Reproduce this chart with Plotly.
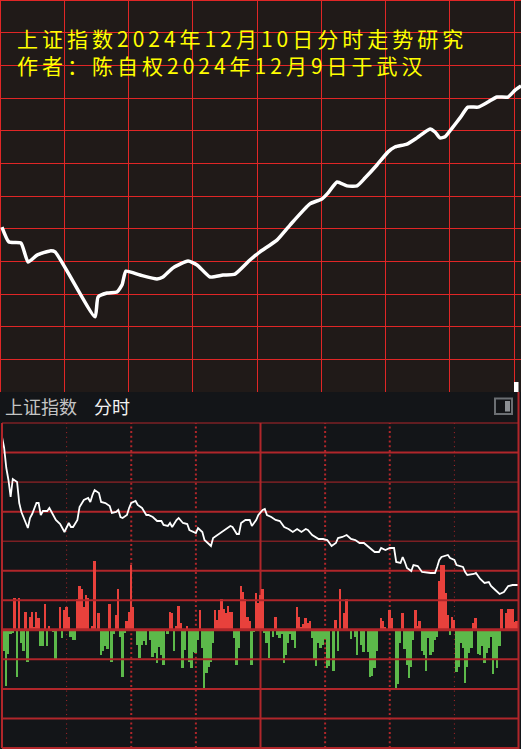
import plotly.graph_objects as go

W, H = 521, 749

# ---------------- data ----------------
# Top panel: forecast curve (session minute, index value)
top_min = [0.9, 4.2, 9.8, 13.1, 17.3, 23.3, 25.7, 44.4, 45.8, 50.0,
           54.6, 57.0, 58.8, 65.4, 73.3, 76.1, 80.8, 87.8, 92.0, 98.1,
           104.1, 109.7, 116.7, 121.4, 129.3, 135.4, 144.7, 150.3, 153.1, 157.4,
           162.0, 166.7, 170.4, 176.0, 181.2, 184.4, 190.0, 194.7, 200.8, 203.1,
           205.4, 207.8, 211.1, 214.8, 218.5, 223.2, 227.9, 232.1, 237.2, 240.5,
           243.3]
top_val = [3430.5, 3425.9, 3425.6, 3419.8, 3421.9, 3423.2, 3422.9, 3403.0, 3409.1, 3410.3,
           3410.6, 3412.8, 3417.0, 3415.8, 3414.6, 3415.2, 3418.0, 3420.1, 3418.9, 3415.2,
           3415.8, 3416.1, 3420.4, 3422.9, 3426.5, 3431.1, 3437.6, 3439.1, 3440.9, 3444.3,
           3443.1, 3443.1, 3445.5, 3449.5, 3453.5, 3455.0, 3455.9, 3457.8, 3460.5, 3459.6,
           3457.8, 3458.1, 3460.8, 3463.9, 3467.2, 3467.2, 3468.8, 3470.3, 3470.3, 3472.4,
           3473.7]

# Bottom panel: intraday price line (minute, index)
price_pts = [
    (0, 3447.2), (1, 3445.0), (2, 3441.0), (3, 3438.6), (4, 3435.2), (5, 3438.8),
    (7, 3438.2), (8, 3434.0), (9, 3432.2), (10, 3431.2), (12, 3429.0), (13, 3431.0),
    (14, 3431.8), (16, 3434.0), (17, 3434.0), (18, 3431.6), (19, 3432.4), (21, 3432.4),
    (22, 3433.0), (23, 3432.2), (25, 3430.6), (27, 3429.8), (29, 3428.2), (31, 3430.0),
    (32, 3429.2), (33, 3429.2), (35, 3430.6), (36, 3433.2), (38, 3434.6), (40, 3435.0),
    (41, 3434.2), (42, 3435.6), (43, 3436.6), (45, 3436.0), (46, 3434.2), (48, 3434.0),
    (50, 3433.4), (51, 3432.0), (53, 3432.2), (54, 3432.6), (55, 3431.2), (56, 3431.0),
    (58, 3431.6), (59, 3433.0), (60, 3434.0), (62, 3434.4), (63, 3433.6), (65, 3433.0),
    (67, 3431.6), (68, 3431.6), (70, 3431.2), (72, 3430.4), (74, 3430.4), (75, 3429.6),
    (77, 3429.4), (78, 3430.0), (79, 3429.2), (81, 3430.6), (82, 3431.0), (84, 3430.0),
    (86, 3429.8), (87, 3428.6), (90, 3428.0), (91, 3429.0), (93, 3428.2), (94, 3426.6),
    (96, 3425.8), (97, 3425.4), (98, 3427.0), (100, 3427.6), (103, 3428.4), (106, 3429.4),
    (107, 3429.2), (109, 3427.8), (110, 3427.8), (111, 3430.0), (113, 3430.6), (115, 3430.6),
    (116, 3429.4), (118, 3430.6), (119, 3431.6), (121, 3432.6), (122, 3432.8), (123, 3431.6),
    (125, 3431.2), (127, 3430.6), (129, 3430.4), (131, 3429.2), (133, 3428.8), (135, 3428.2),
    (137, 3428.8), (139, 3428.2), (141, 3428.8), (142, 3428.6), (144, 3427.6), (147, 3426.8),
    (149, 3426.8), (151, 3426.6), (153, 3425.4), (155, 3426.0), (156, 3427.0), (158, 3427.2),
    (160, 3427.6), (162, 3426.8), (164, 3426.6), (166, 3426.0), (168, 3426.0), (171, 3425.0),
    (173, 3424.2), (175, 3424.2), (176, 3425.0), (178, 3424.6), (180, 3425.0), (182, 3425.0),
    (183, 3422.2), (185, 3422.0), (186, 3423.2), (187, 3422.2), (188, 3421.0), (190, 3420.4),
    (191, 3421.6), (193, 3421.4), (195, 3420.2), (199, 3420.0), (201, 3420.0), (202, 3421.2),
    (203, 3422.6), (204, 3423.2), (207, 3423.6), (208, 3423.0), (210, 3422.6), (211, 3421.6),
    (214, 3421.2), (215, 3420.2), (216, 3419.6), (219, 3419.8), (220, 3420.0), (222, 3418.8),
    (224, 3418.0), (226, 3418.2), (227, 3417.4), (229, 3416.6), (231, 3415.8), (233, 3416.2),
    (235, 3417.4), (237, 3417.6), (240, 3417.6),
]
price_min = [p[0] for p in price_pts]
price_val = [p[1] for p in price_pts]

# Bottom panel: red (inflow) bars (minute, value)
red_bars = [
    (6, 32), (8, 32), (11, 18), (13, 13), (14, 18), (15, 3), (16, 18), (17, 12), (20, 26),
    (22, 4), (27, 23), (29, 20), (30, 23), (31, 13), (35, 31), (36, 44), (37, 41), (38, 23),
    (39, 35), (40, 32), (42, 4), (43, 69), (45, 17), (50, 26), (53, 15), (54, 41), (58, 9),
    (59, 18), (60, 65), (61, 23), (78, 18), (79, 17), (81, 4), (82, 24), (83, 7), (86, 4),
    (92, 20), (99, 20), (100, 10), (101, 20), (102, 31), (103, 21), (104, 17), (105, 24),
    (106, 18), (107, 18), (111, 44), (112, 38), (113, 31), (114, 13), (115, 9), (118, 37),
    (119, 27), (120, 35), (121, 41), (127, 13), (137, 23), (138, 13), (139, 3), (140, 6),
    (141, 12), (142, 7), (143, 9), (155, 10), (157, 41), (159, 17), (160, 31), (176, 12),
    (177, 9), (178, 3), (180, 20), (181, 12), (186, 17), (192, 20), (193, 4), (194, 9),
    (203, 49), (204, 65), (205, 65), (206, 37), (207, 15), (209, 13), (210, 10), (219, 7),
    (220, 12), (232, 21), (234, 17), (235, 21), (236, 21), (237, 21), (238, 8), (239, 9),
]
# green (outflow) bars (minute, value below zero)
green_bars = [
    (1, 21), (2, 56), (3, 24), (4, 4), (5, 3), (7, 47), (9, 13), (10, 21), (12, 32),
    (18, 16), (19, 16), (21, 16), (24, 2), (25, 30), (28, 8), (32, 7), (33, 10), (34, 10),
    (46, 25), (47, 21), (48, 16), (49, 19), (51, 32), (52, 4), (55, 7), (56, 47), (57, 3),
    (63, 15), (64, 28), (65, 15), (66, 11), (67, 15), (69, 10), (70, 27), (71, 23), (72, 33),
    (73, 17), (74, 25), (75, 35), (77, 4), (80, 21), (84, 38), (85, 20), (87, 32), (88, 38),
    (89, 22), (90, 23), (91, 10), (93, 18), (94, 60), (95, 43), (96, 37), (97, 32), (98, 13),
    (108, 8), (109, 35), (110, 18), (116, 35), (117, 2), (122, 3), (123, 13), (124, 28),
    (126, 7), (128, 5), (129, 8), (130, 4), (131, 33), (132, 25), (133, 13), (134, 4),
    (135, 10), (136, 18), (144, 8), (145, 30), (146, 36), (147, 13), (148, 18), (149, 15),
    (150, 9), (151, 38), (152, 36), (154, 41), (156, 21), (162, 9), (164, 7), (165, 25),
    (167, 15), (168, 22), (170, 22), (171, 47), (172, 46), (173, 38), (174, 21), (183, 58),
    (184, 54), (185, 13), (187, 19), (188, 35), (189, 48), (190, 37), (191, 10), (195, 21),
    (196, 25), (197, 41), (198, 8), (199, 25), (200, 22), (201, 10), (202, 7), (208, 5),
    (211, 42), (212, 37), (213, 13), (214, 18), (215, 53), (216, 37), (217, 23), (218, 18),
    (221, 24), (222, 25), (223, 16), (224, 33), (225, 23), (226, 18), (227, 7), (228, 44),
    (229, 29), (230, 38), (231, 16), (240, 7),
]
red_min = [b[0] for b in red_bars]
red_val = [b[1] for b in red_bars]
green_min = [b[0] for b in green_bars]
green_val = [-b[1] for b in green_bars]

title_1 = "上证指数2024年12月10日分时走势研究"
title_2 = "作者：陈自权2024年12月9日于武汉"
header_1 = "上证指数"
header_2 = "分时"

# ---------------- styles ----------------
TOP_BG = "#201a18"
TOP_GRID = "#e02626"
BOT_BG = "#131518"
BOT_GRID = "#b0262a"
RED_BAR = "#e8413c"
GREEN_BAR = "#5cb94a"
FONT = "Noto Sans CJK SC"

def px_x(x):
    return x / W

def px_y(y):
    return 1 - y / H

TOP_BOTTOM = 392
fig = go.Figure()

fig.add_trace(go.Scatter(x=top_min, y=top_val, xaxis="x", yaxis="y", mode="lines",
                         line=dict(color="white", width=3.5, shape="spline", smoothing=0.5),
                         hoverinfo="skip"))
fig.add_trace(go.Bar(x=red_min, y=red_val, xaxis="x2", yaxis="y2", width=0.9,
                     marker=dict(color=RED_BAR, line=dict(width=0)), hoverinfo="skip"))
fig.add_trace(go.Bar(x=green_min, y=green_val, xaxis="x2", yaxis="y2", width=0.9,
                     marker=dict(color=GREEN_BAR, line=dict(width=0)), hoverinfo="skip"))
fig.add_trace(go.Scatter(x=price_min, y=price_val, xaxis="x2", yaxis="y3", mode="lines",
                         line=dict(color="white", width=1.8), hoverinfo="skip"))

shapes = []
# top panel background
shapes.append(dict(type="rect", xref="paper", yref="paper", x0=0, x1=1,
                   y0=px_y(TOP_BOTTOM), y1=1, fillcolor=TOP_BG, line=dict(width=0), layer="below"))
# top border lines
shapes.append(dict(type="line", xref="paper", yref="paper", x0=0, x1=1, y0=px_y(0.5), y1=px_y(0.5),
                   line=dict(color=TOP_GRID, width=1), layer="below"))
shapes.append(dict(type="line", xref="paper", yref="paper", x0=px_x(0.5), x1=px_x(0.5),
                   y0=px_y(TOP_BOTTOM), y1=1, line=dict(color=TOP_GRID, width=1), layer="below"))
# small white block at top panel corner
shapes.append(dict(type="rect", xref="paper", yref="paper", x0=px_x(514), x1=px_x(518.5),
                   y0=px_y(392), y1=px_y(382), fillcolor="white", line=dict(width=0)))

# bottom panel horizontal lines (11 intervals)
for k in range(12):
    if k in (7, 9, 11):
        w = 1
    elif k == 4:
        w = 3
    else:
        w = 2
    layer = "below" if 6 <= k <= 10 else "above"
    shapes.append(dict(type="line", xref="x2 domain", yref="y2 domain", x0=0, x1=1,
                       y0=k / 11, y1=k / 11, line=dict(color=BOT_GRID, width=w), layer=layer))
# vertical time lines
for m in (30, 210):
    shapes.append(dict(type="line", xref="x2", yref="y2 domain", x0=m, x1=m, y0=0, y1=1,
                       line=dict(color=BOT_GRID, width=1, dash="1px,3.7px"), layer="below"))
for m in (60, 90, 150, 180):
    shapes.append(dict(type="line", xref="x2", yref="y2 domain", x0=m, x1=m, y0=0, y1=1,
                       line=dict(color=BOT_GRID, width=2, dash="2px,2.7px"), layer="below"))
shapes.append(dict(type="line", xref="x2", yref="y2 domain", x0=120, x1=120, y0=0, y1=1,
                   line=dict(color=BOT_GRID, width=2), layer="below"))
# left / right borders
shapes.append(dict(type="line", xref="paper", yref="y2 domain", x0=px_x(2), x1=px_x(2), y0=0, y1=1,
                   line=dict(color=BOT_GRID, width=2), layer="above"))
shapes.append(dict(type="line", xref="paper", yref="paper", x0=px_x(518.5), x1=px_x(518.5),
                   y0=0, y1=px_y(TOP_BOTTOM), line=dict(color=BOT_GRID, width=2), layer="above"))
# header icon
shapes.append(dict(type="rect", xref="paper", yref="paper", x0=px_x(495), x1=px_x(512),
                   y0=px_y(414), y1=px_y(398.5), line=dict(color="#6b6f73", width=2),
                   fillcolor="rgba(0,0,0,0)"))
shapes.append(dict(type="rect", xref="paper", yref="paper", x0=px_x(505), x1=px_x(510),
                   y0=px_y(411.5), y1=px_y(401), line=dict(width=0), fillcolor="#8c9094"))

title_html = ('<span style="letter-spacing:4px">' + title_1 + '</span><br>'
              '<span style="letter-spacing:4px">' + title_2 + '</span>')
annotations = [
    dict(text=title_html, xref="paper", yref="paper", x=px_x(15), y=px_y(21), xanchor="left",
         yanchor="top", align="left", showarrow=False,
         font=dict(family=FONT, size=21, color="#ffff00")),
    dict(text=header_1, xref="paper", yref="paper", x=px_x(3), y=px_y(406), xanchor="left",
         yanchor="middle", showarrow=False, font=dict(family=FONT, size=18, color="#c4c4c4")),
    dict(text=header_2, xref="paper", yref="paper", x=px_x(92), y=px_y(406), xanchor="left",
         yanchor="middle", showarrow=False, font=dict(family=FONT, size=18, color="#f2f2f2")),
]

fig.update_layout(
    width=W, height=H,
    margin=dict(l=0, r=0, t=0, b=0),
    paper_bgcolor=BOT_BG, plot_bgcolor="rgba(0,0,0,0)",
    showlegend=False, barmode="overlay", bargap=0,
    shapes=shapes, annotations=annotations,
    xaxis=dict(domain=[0, 1], range=[0, 240 * W / 514], tick0=0, dtick=30, showgrid=True,
               gridcolor=TOP_GRID, gridwidth=1, zeroline=False, showticklabels=False,
               ticks="", showline=False, fixedrange=True, anchor="y"),
    yaxis=dict(domain=[px_y(TOP_BOTTOM), 1], range=[3380, 3500], tick0=3380, dtick=10,
               showgrid=True, gridcolor=TOP_GRID, gridwidth=1, zeroline=False,
               showticklabels=False, ticks="", showline=False, fixedrange=True, anchor="x"),
    xaxis2=dict(domain=[px_x(2), px_x(519)], range=[0, 240], showgrid=False, zeroline=False,
                showticklabels=False, ticks="", showline=False, anchor="y2", fixedrange=True),
    yaxis2=dict(domain=[px_y(748), px_y(423)], range=[-118, 207], showgrid=False, zeroline=False,
                showticklabels=False, ticks="", showline=False, anchor="x2", fixedrange=True),
    yaxis3=dict(domain=[px_y(748), px_y(423)], range=[3385, 3450], overlaying="y2",
                showgrid=False, zeroline=False, showticklabels=False, ticks="",
                showline=False, anchor="x2", fixedrange=True),
)

fig.write_html("out.html", config={"displayModeBar": False},
               post_script="document.body.style.margin='0';document.body.style.overflow='hidden';")
